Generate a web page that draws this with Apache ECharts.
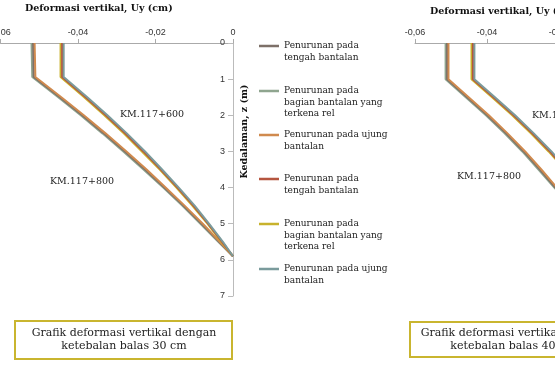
<!DOCTYPE html>
<html><head><meta charset="utf-8">
<script src="https://cdn.jsdelivr.net/npm/echarts@6/dist/echarts.min.js"></script>
<style>html,body{margin:0;padding:0;background:#fff}#c{width:555px;height:370px}</style>
</head><body><div id="c"></div>
<script>
// depth (m)
const depth30 = [0, 0.94, 1.5, 2, 2.5, 3, 3.5, 4, 4.5, 5, 5.5, 5.9];
const depth40 = [0, 1.0, 1.5, 2, 2.5, 3, 3.5, 4, 4.5, 5, 5.5, 5.9];
const xTicks = [-0.06, -0.04, -0.02, 0];
const zTicks = [0, 1, 2, 3, 4, 5, 6, 7];

// 30 cm ballast, KM.117+800
const b30_800_tengah = [-0.0516, -0.0514, -0.0447, -0.0389, -0.0333, -0.0279, -0.0227, -0.0177, -0.0128, -0.0081, -0.0036, 0];
const b30_800_rel    = [-0.0520, -0.0518, -0.0451, -0.0393, -0.0337, -0.0283, -0.0231, -0.0180, -0.0131, -0.0084, -0.0038, 0];
const b30_800_ujung  = [-0.0512, -0.0510, -0.0443, -0.0385, -0.0329, -0.0275, -0.0223, -0.0174, -0.0125, -0.0078, -0.0034, 0];
// 30 cm ballast, KM.117+600
const b30_600_tengah = [-0.0441, -0.0441, -0.0380, -0.0328, -0.0278, -0.0231, -0.0186, -0.0143, -0.0102, -0.0064, -0.0028, 0];
const b30_600_rel    = [-0.0445, -0.0445, -0.0384, -0.0332, -0.0282, -0.0235, -0.0189, -0.0146, -0.0105, -0.0066, -0.0030, 0];
const b30_600_ujung  = [-0.0437, -0.0437, -0.0376, -0.0324, -0.0274, -0.0227, -0.0183, -0.0140, -0.0099, -0.0062, -0.0026, 0];
// 40 cm ballast, KM.117+800
const b40_800_tengah = [-0.0511, -0.0511, -0.0455, -0.0399, -0.0347, -0.0298, -0.0253, -0.0210, -0.0165, -0.0115, -0.0060, 0];
const b40_800_rel    = [-0.0515, -0.0515, -0.0459, -0.0403, -0.0351, -0.0302, -0.0257, -0.0213, -0.0168, -0.0118, -0.0062, 0];
const b40_800_ujung  = [-0.0507, -0.0507, -0.0451, -0.0395, -0.0343, -0.0294, -0.0249, -0.0206, -0.0162, -0.0112, -0.0058, 0];
// 40 cm ballast, KM.117+600
const b40_600_tengah = [-0.0439, -0.0439, -0.0382, -0.0326, -0.0274, -0.0225, -0.0181, -0.0140, -0.0100, -0.0062, -0.0027, 0];
const b40_600_rel    = [-0.0443, -0.0443, -0.0386, -0.0330, -0.0278, -0.0229, -0.0184, -0.0143, -0.0103, -0.0064, -0.0029, 0];
const b40_600_ujung  = [-0.0435, -0.0435, -0.0378, -0.0322, -0.0270, -0.0221, -0.0178, -0.0137, -0.0097, -0.0060, -0.0025, 0];

const legendLabels = [
  'Penurunan pada\ntengah bantalan',
  'Penurunan pada\nbagian bantalan yang\nterkena rel',
  'Penurunan pada ujung\nbantalan',
  'Penurunan pada\ntengah bantalan',
  'Penurunan pada\nbagian bantalan yang\nterkena rel',
  'Penurunan pada ujung\nbantalan'
];
const seriesNames = [
  'Penurunan pada tengah bantalan (KM.117+800)',
  'Penurunan pada bagian bantalan yang terkena rel (KM.117+800)',
  'Penurunan pada ujung bantalan (KM.117+800)',
  'Penurunan pada tengah bantalan (KM.117+600)',
  'Penurunan pada bagian bantalan yang terkena rel (KM.117+600)',
  'Penurunan pada ujung bantalan (KM.117+600)'
];
const colors = ['#7d7068', '#8fa58f', '#d08a4e', '#b5553f', '#c8b22c', '#7a9b9c'];
const legendFirstLineY = [46, 91, 135, 179, 224, 269];

const SERIF = 'DejaVu Serif';
const SANS = 'Liberation Sans';

function pairs(xs, zs) { return xs.map((v, i) => [v, zs[i]]); }
function fmt(v) { return v === 0 ? '0' : v.toFixed(2).replace('.', ','); }

const data30 = [b30_800_tengah, b30_800_rel, b30_800_ujung, b30_600_tengah, b30_600_rel, b30_600_ujung];
const data40 = [b40_800_tengah, b40_800_rel, b40_800_ujung, b40_600_tengah, b40_600_rel, b40_600_ujung];
const drawOrder = [1, 0, 2, 4, 3, 5];

const series = [];
drawOrder.forEach(i => {
  series.push({ type: 'line', name: seriesNames[i], xAxisIndex: 0, yAxisIndex: 0,
    data: pairs(data30[i], depth30), showSymbol: false, smooth: false,
    lineStyle: { width: 2, color: colors[i] }, itemStyle: { color: colors[i] }, silent: true });
});
drawOrder.forEach(i => {
  series.push({ type: 'line', name: seriesNames[i] + ' 40cm', xAxisIndex: 1, yAxisIndex: 1,
    data: pairs(data40[i], depth40), showSymbol: false, smooth: false,
    lineStyle: { width: 2, color: colors[i] }, itemStyle: { color: colors[i] }, silent: true });
});

const L = 11.4;
function iconPath(n) {
  const h = n * L, a = L / 2 - 1.25, b = L / 2 + 1.25;
  return 'path://M0,' + a + 'L20,' + a + 'L20,' + b + 'L0,' + b + 'Z' +
    'M0,0L0.01,0L0,0.01Z' + 'M0,' + h + 'L0.01,' + h + 'L0,' + (h - 0.01) + 'Z';
}
const legends = seriesNames.map((nm, i) => {
  const n = legendLabels[i].split('\n').length;
  return {
    left: 259, top: legendFirstLineY[i] - L / 2, padding: 0, orient: 'vertical',
    selectedMode: false, icon: iconPath(n), itemWidth: 20, itemHeight: n * L,
    symbolKeepAspect: false,
    itemStyle: { borderWidth: 0 },
    data: [{ name: nm, itemStyle: { color: colors[i], borderWidth: 0 } }],
    formatter: () => legendLabels[i],
    textStyle: { fontFamily: SERIF, fontSize: 9, color: '#222', lineHeight: L }
  };
});

function xAx(gi) {
  return { type: 'value', gridIndex: gi, position: 'top', min: -0.06, max: 0, interval: 0.02,
    axisLine: { show: true, onZero: false, lineStyle: { color: '#aaaaaa', width: 1 } },
    axisTick: { show: true, length: 4, lineStyle: { color: '#aaaaaa' } },
    axisLabel: { fontFamily: SANS, fontSize: 9, color: '#333', margin: 6, formatter: fmt, showMinLabel: true },
    splitLine: { show: false } };
}
function yAx(gi) {
  return { type: 'value', gridIndex: gi, position: 'right', inverse: true, min: 0, max: 7, interval: 1,
    axisLine: { show: true, onZero: false, lineStyle: { color: '#bbbbbb', width: 1 } },
    axisTick: { show: true, inside: true, length: 5, lineStyle: { color: '#bbbbbb' } },
    axisLabel: { inside: true, margin: 8, fontFamily: SANS, fontSize: 9, color: '#333' },
    splitLine: { show: false },
    name: 'Kedalaman, z (m)', nameLocation: 'middle', nameGap: 7, nameRotate: 90,
    nameTextStyle: { fontFamily: SERIF, fontWeight: 'bold', fontSize: 9.5, color: '#111', padding: [0, 0, 0, 76] } };
}

const annot = (txt, x, y) => ({ type: 'text', silent: true,
  style: { text: txt, x: x, y: y, align: 'center', verticalAlign: 'middle', font: '9.5px "DejaVu Serif"', fill: '#222' } });

const option = {
  animation: false,
  backgroundColor: '#ffffff',
  title: [
    { text: 'Deformasi vertikal, Uy (cm)', left: 25, top: 4, padding: 0,
      textStyle: { fontFamily: SERIF, fontWeight: 'bold', fontSize: 9.5, color: '#111' } },
    { text: 'Deformasi vertikal, Uy (cm)', left: 430, top: 7, padding: 0,
      textStyle: { fontFamily: SERIF, fontWeight: 'bold', fontSize: 9.5, color: '#111' } }
  ],
  legend: legends,
  grid: [
    { left: 0.5, top: 43, width: 232.5, height: 253, containLabel: false, outerBoundsMode: 'none' },
    { left: 415, top: 43, width: 216, height: 253, containLabel: false, outerBoundsMode: 'none' }
  ],
  xAxis: [xAx(0), xAx(1)],
  yAxis: [yAx(0), yAx(1)],
  series: series,
  graphic: [
    annot('KM.117+600', 152, 115),
    annot('KM.117+800', 82, 182),
    annot('KM.117+800', 489, 177),
    annot('KM.117+600', 564, 116),
    { type: 'rect', silent: true, shape: { x: 15, y: 321, width: 217, height: 38 },
      style: { fill: '#ffffff', stroke: '#c9b52f', lineWidth: 2 } },
    { type: 'text', silent: true, style: { text: 'Grafik deformasi vertikal dengan\nketebalan balas 30 cm',
      x: 124, y: 340, align: 'center', verticalAlign: 'middle', lineHeight: 13,
      font: '11px "DejaVu Serif"', fill: '#222' } },
    { type: 'rect', silent: true, shape: { x: 410, y: 322, width: 206, height: 35 },
      style: { fill: '#ffffff', stroke: '#c9b52f', lineWidth: 2 } },
    { type: 'text', silent: true, style: { text: 'Grafik deformasi vertikal dengan\nketebalan balas 40 cm',
      x: 513, y: 340, align: 'center', verticalAlign: 'middle', lineHeight: 13,
      font: '11px "DejaVu Serif"', fill: '#222' } }
  ]
};
const chart = echarts.init(document.getElementById('c'), null, { renderer: 'canvas' });
chart.setOption(option);
</script></body></html>
